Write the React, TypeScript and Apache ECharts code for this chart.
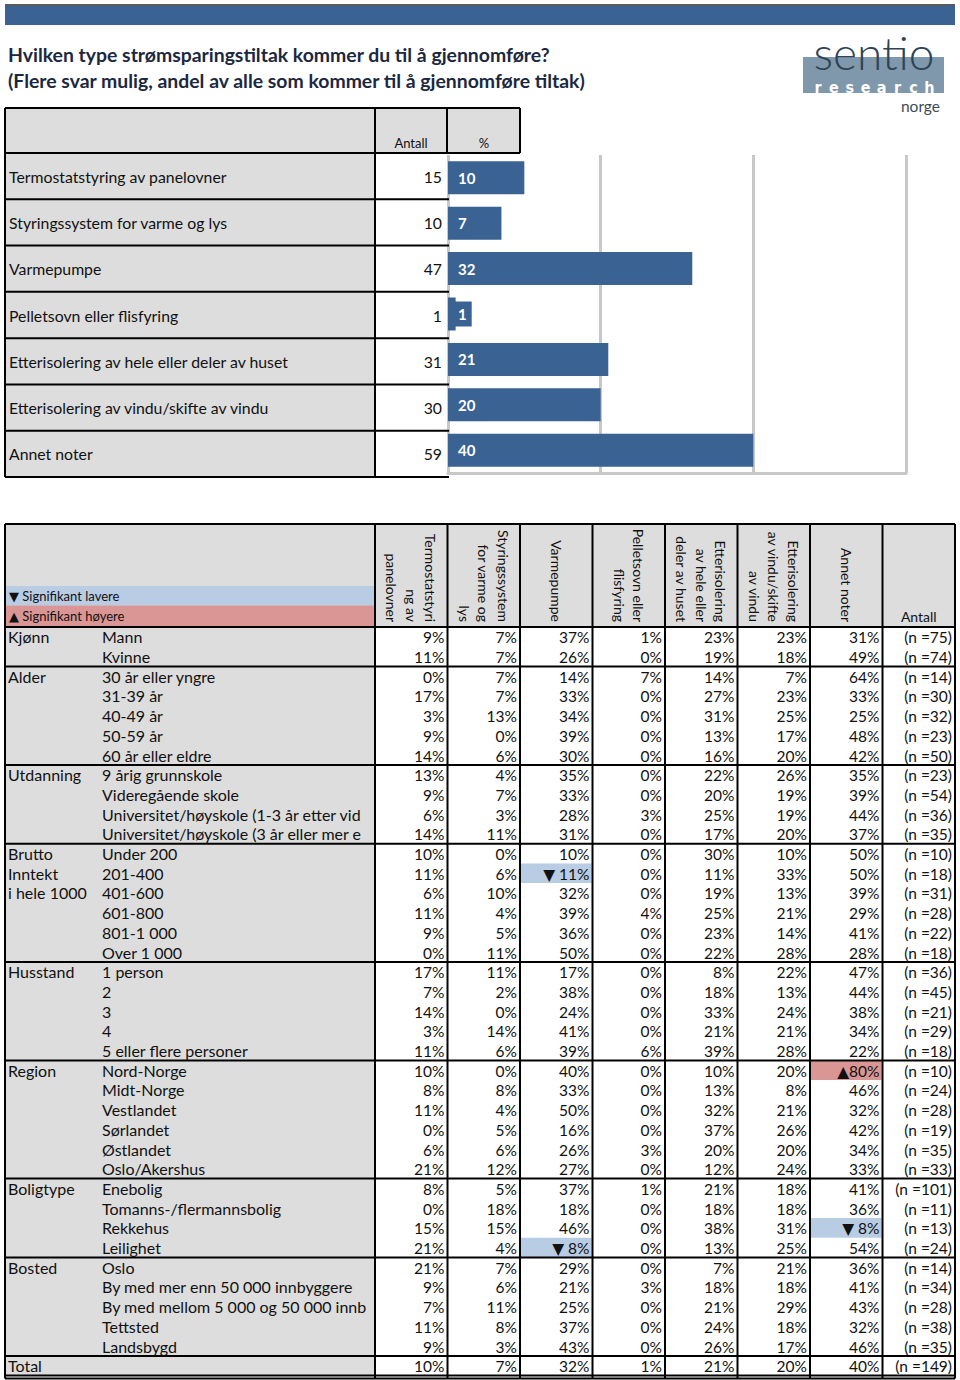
import React, { useEffect, useRef } from "react";
import * as echarts from "echarts";

const FONT = 'Lato, "DejaVu Sans", "Noto Sans", sans-serif';

// ---------- texts ----------
const titleLines = [
  "Hvilken type strømsparingstiltak kommer du til å gjennomføre?",
  "(Flere svar mulig, andel av alle som kommer til å gjennomføre tiltak)",
];

// ---------- top table + bar chart ----------
const measures = [
  "Termostatstyring av panelovner",
  "Styringssystem for varme og lys",
  "Varmepumpe",
  "Pelletsovn eller flisfyring",
  "Etterisolering av hele eller deler av huset",
  "Etterisolering av vindu/skifte av vindu",
  "Annet noter",
];
const measureCounts = [15, 10, 47, 1, 31, 30, 59];
const measurePercents = [10, 7, 32, 1, 21, 20, 40];
const pctAxisMax = 60;
const pctAxisInterval = 20;

// ---------- cross table ----------
const crossHeaders = [
  "Termostatstyri\nng av\npanelovner",
  "Styringssystem\nfor varme og\nlys",
  "Varmepumpe",
  "Pelletsovn eller\nflisfyring",
  "Etterisolering\nav hele eller\ndeler av huset",
  "Etterisolering\nav vindu/skifte\nav vindu",
  "Annet noter",
];
const countHeader = "Antall";
const legendLower = "▼ Signifikant lavere";
const legendHigher = "▲ Signifikant høyere";

const groupNames = ["Kjønn", "Alder", "Utdanning", "Brutto\nInntekt\ni hele 1000", "Husstand", "Region", "Boligtype", "Bosted", "Total"];
const groupSizes = [2, 5, 4, 6, 5, 6, 4, 5, 1];
const rowLabels = [
  "Mann", "Kvinne",
  "30 år eller yngre", "31-39 år", "40-49 år", "50-59 år", "60 år eller eldre",
  "9 årig grunnskole", "Videregående skole",
  "Universitet/høyskole (1-3 år etter videregående skole)",
  "Universitet/høyskole (3 år eller mer etter videregående skole)",
  "Under 200", "201-400", "401-600", "601-800", "801-1 000", "Over 1 000",
  "1 person", "2", "3", "4", "5 eller flere personer",
  "Nord-Norge", "Midt-Norge", "Vestlandet", "Sørlandet", "Østlandet", "Oslo/Akershus",
  "Enebolig", "Tomanns-/flermannsbolig", "Rekkehus", "Leilighet",
  "Oslo", "By med mer enn 50 000 innbyggere", "By med mellom 5 000 og 50 000 innbyggere", "Tettsted", "Landsbygd",
  "",
];
const termostatPct = [9, 11, 0, 17, 3, 9, 14, 13, 9, 6, 14, 10, 11, 6, 11, 9, 0, 17, 7, 14, 3, 11, 10, 8, 11, 0, 6, 21, 8, 0, 15, 21, 21, 9, 7, 11, 9, 10];
const styringPct = [7, 7, 7, 7, 13, 0, 6, 4, 7, 3, 11, 0, 6, 10, 4, 5, 11, 11, 2, 0, 14, 6, 0, 8, 4, 5, 6, 12, 5, 18, 15, 4, 7, 6, 11, 8, 3, 7];
const varmepumpePct = [37, 26, 14, 33, 34, 39, 30, 35, 33, 28, 31, 10, 11, 32, 39, 36, 50, 17, 38, 24, 41, 39, 40, 33, 50, 16, 26, 27, 37, 18, 46, 8, 29, 21, 25, 37, 43, 32];
const pelletsPct = [1, 0, 7, 0, 0, 0, 0, 0, 0, 3, 0, 0, 0, 0, 4, 0, 0, 0, 0, 0, 0, 6, 0, 0, 0, 0, 3, 0, 1, 0, 0, 0, 0, 3, 0, 0, 0, 1];
const etterHelePct = [23, 19, 14, 27, 31, 13, 16, 22, 20, 25, 17, 30, 11, 19, 25, 23, 22, 8, 18, 33, 21, 39, 10, 13, 32, 37, 20, 12, 21, 18, 38, 13, 7, 18, 21, 24, 26, 21];
const etterVinduPct = [23, 18, 7, 23, 25, 17, 20, 26, 19, 19, 20, 10, 33, 13, 21, 14, 28, 22, 13, 24, 21, 28, 20, 8, 21, 26, 20, 24, 18, 18, 31, 25, 21, 18, 29, 18, 17, 20];
const annetPct = [31, 49, 64, 33, 25, 48, 42, 35, 39, 44, 37, 50, 50, 39, 29, 41, 28, 47, 44, 38, 34, 22, 80, 46, 32, 42, 34, 33, 41, 36, 8, 54, 36, 41, 43, 32, 46, 40];
const nCounts = [75, 74, 14, 30, 32, 23, 50, 23, 54, 36, 35, 10, 18, 31, 28, 22, 18, 36, 45, 21, 29, 18, 10, 24, 28, 19, 35, 33, 101, 11, 13, 24, 14, 34, 28, 38, 35, 149];
// significance markers: [row, column]
const sigLower = [[12, 2], [30, 6], [31, 2]];
const sigHigher = [[22, 6]];

// ---------- styling ----------
const BLUE = "#3a6293";
const GREY = "#dddddd";
const SIG_BLUE = "#b8cce4";
const SIG_RED = "#da9694";
const INK = "#111111";

function buildOption() {
  const pctCols = [termostatPct, styringPct, varmepumpePct, pelletsPct, etterHelePct, etterVinduPct, annetPct];
  const g: any[] = [];
  const rect = (x: number, y: number, w: number, h: number, fill: string, z = 0, extra: any = {}) =>
    g.push({ type: "rect", z, silent: true, shape: { x, y, width: w, height: h }, style: { fill, ...extra } });
  const line = (x1: number, y1: number, x2: number, y2: number, w = 2, color = "#000") =>
    g.push({ type: "line", z: 20, silent: true, shape: { x1, y1, x2, y2 }, style: { stroke: color, lineWidth: w } });
  const text = (x: number, y: number, t: string, opts: any = {}, el: any = {}) =>
    g.push({
      type: "text", z: 30, silent: true, x, y, ...el,
      style: { text: t, x: 0, y: 0, fontFamily: FONT, fontSize: 15, fill: INK, align: "left", verticalAlign: "middle", ...opts },
    });

  // header band
  line(5, 5, 955, 5, 1.5, "#222");
  rect(5, 6, 950, 19, BLUE);

  // title
  text(8, 54, titleLines[0], { fontSize: 19.4, fontWeight: "bold", fill: "#1b2840" });
  text(8, 80, titleLines[1], { fontSize: 19.4, fontWeight: "bold", fill: "#1b2840" });

  // logo
  rect(803, 57, 141, 36, "#7f98ab");
  text(874, 52.5, "sentio", { fontSize: 46, fontWeight: 300, fill: "#2e4355", align: "center" });
  "research".split("").forEach((ch, i) =>
    text(818 + i * 15.9, 87.5, ch, { fontSize: 16, fontWeight: "bold", fill: "#ffffff", align: "center", fontFamily: '"Liberation Sans Narrow", "DejaVu Sans Condensed", Lato, sans-serif' })
  );
  text(940, 106, "norge", { fontSize: 15.5, fill: "#3d4b57", align: "right" });

  // ---- top table ----
  const tHeadTop = 108, tBodyTop = 153, tBodyBot = 477;
  const tRowH = (tBodyBot - tBodyTop) / measures.length;
  rect(5, tHeadTop, 370, tBodyTop - tHeadTop, GREY);
  rect(375, tHeadTop, 72, tBodyTop - tHeadTop, GREY);
  rect(447, tHeadTop, 73, tBodyTop - tHeadTop, GREY);
  text(411, 143, "Antall", { fontSize: 13, align: "center" });
  text(484, 143, "%", { fontSize: 13, align: "center" });
  line(5, tHeadTop, 520, tHeadTop);
  line(5, tBodyTop, 520, tBodyTop);
  [5, 375, 447, 520].forEach((x) => line(x, tHeadTop, x, tBodyTop));
  line(5, tBodyTop, 5, tBodyBot);
  line(375, tBodyTop, 375, tBodyBot);
  measures.forEach((m, i) => {
    const y0 = tBodyTop + i * tRowH;
    rect(5, y0, 370, tRowH, GREY);
    text(9, y0 + tRowH / 2, m, { fontSize: 15.8 });
    text(442, y0 + tRowH / 2, String(measureCounts[i]), { fontSize: 15.8, align: "right" });
    line(5, y0 + tRowH, 449, y0 + tRowH);
  });

  // ---- cross table ----
  const cTop = 524, cHeadBot = 627, cRowH = 19.7;
  const nRows = rowLabels.length;
  const cBot = cHeadBot + nRows * cRowH;
  const cL = 375, cR = 955;
  const colW = (cR - cL) / (crossHeaders.length + 1);

  rect(5, cTop, 950, cHeadBot - cTop, GREY);
  rect(5, 586, 370, 19.5, SIG_BLUE, 1);
  rect(5, 605.5, 370, 21, SIG_RED, 1);
  text(9, 596, legendLower, { fontSize: 13 });
  text(9, 616, legendHigher, { fontSize: 13 });
  crossHeaders.forEach((h, c) => {
    text(cL + (c + 0.5) * colW, 622, h, { fontSize: 14, align: "right", verticalAlign: "middle", lineHeight: 19.5 }, { rotation: -Math.PI / 2 });
  });
  text(cL + 7.5 * colW, 616, countHeader, { fontSize: 14, align: "center" });

  rect(5, cHeadBot, 370, cBot - cHeadBot, GREY);
  let start = 0;
  groupNames.forEach((gname, gi) => {
    gname.split("\n").forEach((ln, k) => text(8, cHeadBot + (start + k + 0.5) * cRowH, ln, { fontSize: 16 }));
    if (start > 0) line(5, cHeadBot + start * cRowH, cR, cHeadBot + start * cRowH);
    start += groupSizes[gi];
  });
  rowLabels.forEach((lab, r) => {
    if (!lab) return;
    text(102, cHeadBot + (r + 0.5) * cRowH, lab, { fontSize: 16, width: 272, overflow: "truncate", ellipsis: "" });
  });
  line(5, cTop, cR, cTop);
  line(5, cHeadBot, cR, cHeadBot);
  line(5, cBot, cR, cBot);
  line(5, cBot + 3, cR, cBot + 3);
  line(5, cTop, 5, cBot + 3);
  for (let c = 0; c <= crossHeaders.length + 1; c++) line(cL + c * colW, cTop, cL + c * colW, cBot + 3);

  // cells for custom series
  type Cell = { c: number; r: number; text: string; sig: number };
  const cells: Cell[] = [];
  for (let r = 0; r < nRows; r++) {
    for (let c = 0; c <= crossHeaders.length; c++) {
      let sig = 0;
      if (sigLower.some(([rr, cc]) => rr === r && cc === c)) sig = -1;
      if (sigHigher.some(([rr, cc]) => rr === r && cc === c)) sig = 1;
      const base = c < crossHeaders.length ? `${pctCols[c][r]}%` : `(n =${nCounts[r]})`;
      const t = sig === -1 ? `▼ ${base}` : sig === 1 ? `▲${base}` : base;
      cells.push({ c, r, text: t, sig });
    }
  }

  return {
    animation: false,
    backgroundColor: "#ffffff",
    textStyle: { fontFamily: FONT },
    grid: [
      { left: 448, top: 155, width: 458, height: 318, containLabel: false },
      { left: cL, top: cHeadBot, width: cR - cL, height: cBot - cHeadBot, containLabel: false },
    ],
    xAxis: [
      {
        type: "value", gridIndex: 0, min: 0, max: pctAxisMax, interval: pctAxisInterval,
        axisLabel: { show: false }, axisTick: { show: false },
        axisLine: { show: true, lineStyle: { color: "#c8c8c8", width: 3 } },
        splitLine: { show: true, lineStyle: { color: "#c8c8c8", width: 3 } },
      },
      { type: "category", gridIndex: 1, data: [...crossHeaders, countHeader], show: false },
    ],
    yAxis: [
      {
        type: "category", gridIndex: 0, inverse: true, data: measures,
        axisLabel: { show: false }, axisTick: { show: false }, axisLine: { show: false },
      },
      { type: "category", gridIndex: 1, inverse: true, data: rowLabels.map((l, i) => `${i}:${l}`), show: false },
    ],
    series: [
      {
        type: "bar", xAxisIndex: 0, yAxisIndex: 0, data: measurePercents, barWidth: 33,
        itemStyle: { color: BLUE },
        label: {
          show: true, position: "insideLeft", distance: 5, formatter: "{c}",
          color: "#ffffff", fontWeight: "bold", fontSize: 15, fontFamily: FONT,
          backgroundColor: BLUE, padding: [5, 5],
        },
      },
      {
        type: "custom", xAxisIndex: 1, yAxisIndex: 1,
        data: cells.map((cl) => [cl.c, cl.r]),
        renderItem: (params: any, api: any) => {
          const cell = cells[params.dataIndex];
          const pt = api.coord([api.value(0), api.value(1)]);
          const x0 = pt[0] - colW / 2;
          const y0 = pt[1] - cRowH / 2;
          const children: any[] = [];
          if (cell.sig !== 0) {
            children.push({
              type: "rect", shape: { x: x0 + 1, y: y0, width: colW - 2, height: cRowH },
              style: { fill: cell.sig < 0 ? SIG_BLUE : SIG_RED },
            });
          }
          children.push({
            type: "text",
            style: {
              text: cell.text, x: x0 + colW - 3, y: pt[1] + 0.5, align: "right", verticalAlign: "middle",
              fontSize: 15.5, fontFamily: FONT, fill: INK,
            },
          });
          return { type: "group", children };
        },
      },
    ],
    graphic: { elements: g },
  };
}

export default function App() {
  const ref = useRef<HTMLDivElement>(null);
  useEffect(() => {
    const chart = echarts.init(ref.current!, null, { renderer: "svg" });
    chart.setOption(buildOption() as any);
    return () => chart.dispose();
  }, []);
  return (
    <div
      ref={ref}
      style={{ position: "absolute", left: 0, top: 0, width: 960, height: 1380, background: "#ffffff" }}
    />
  );
}
